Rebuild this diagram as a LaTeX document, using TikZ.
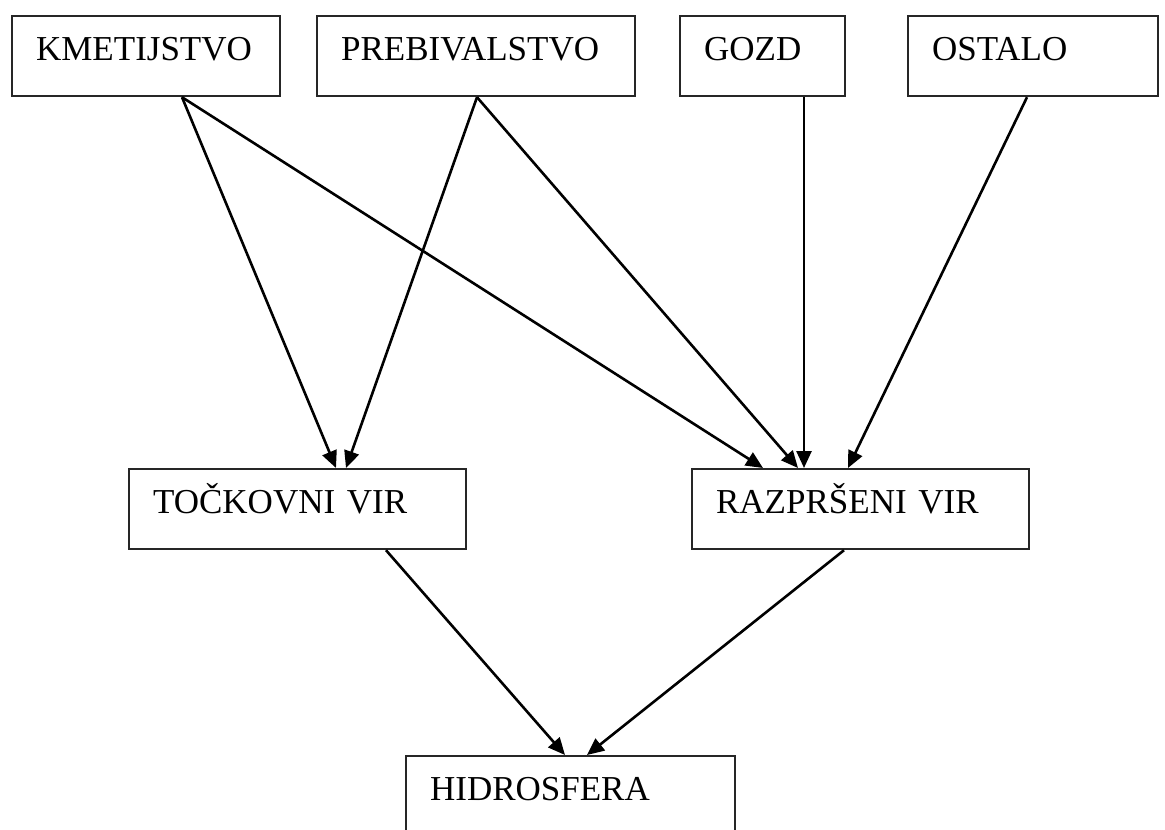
\documentclass[tikz,border=0pt]{standalone}
\usepackage{fontspec}
\setmainfont{Liberation Serif}
\usetikzlibrary{arrows.meta}
\begin{document}
\begin{tikzpicture}[x=1pt,y=-1pt,
  box/.style={draw=black!85, line width=2.2pt, rectangle, anchor=north west,
    inner xsep=24pt, inner ysep=0pt, minimum height=80pt, align=left,
    text height=30pt, text depth=22pt, font=\fontsize{35}{40}\selectfont},
  conn/.style={line width=2.6pt, -{Triangle[length=17pt,width=15pt]}}]
\useasboundingbox (0,0) rectangle (1165,830);
\clip (0,0) rectangle (1165,830);
\fill[white] (0,0) rectangle (1165,830);
% top row
\node[box, text width=220pt] (kmet) at (11,15) {KMETIJSTVO};
\node[box, text width=270pt] (preb) at (316,15) {PREBIVALSTVO};
\node[box, text width=117pt] (gozd) at (679,15) {GOZD};
\node[box, text width=202pt] (ost) at (907,15) {OSTALO};
% middle row
\node[box, text width=289pt] (tock) at (128,468) {TOČKOVNI VIR};
\node[box, text width=289pt] (razp) at (691,468) {RAZPRŠENI VIR};
% bottom
\node[box, text width=281pt] (hidro) at (405,755) {HIDROSFERA};
% connectors
\draw[conn] ([xshift=171pt]kmet.south west) -- ([xshift=208pt]tock.north west);
\draw[conn] ([xshift=171pt]kmet.south west) -- ([xshift=72pt]razp.north west);
\draw[conn] ([xshift=161pt]preb.south west) -- ([xshift=218pt]tock.north west);
\draw[conn] ([xshift=161pt]preb.south west) -- ([xshift=107pt]razp.north west);
\draw[conn] ([xshift=125pt]gozd.south west) -- ([xshift=113pt]razp.north west);
\draw[conn] ([xshift=120pt]ost.south west) -- ([xshift=157pt]razp.north west);
\draw[conn] ([xshift=258pt]tock.south west) -- ([xshift=160pt]hidro.north west);
\draw[conn] ([xshift=153pt]razp.south west) -- ([xshift=182pt]hidro.north west);
\end{tikzpicture}
\end{document}
